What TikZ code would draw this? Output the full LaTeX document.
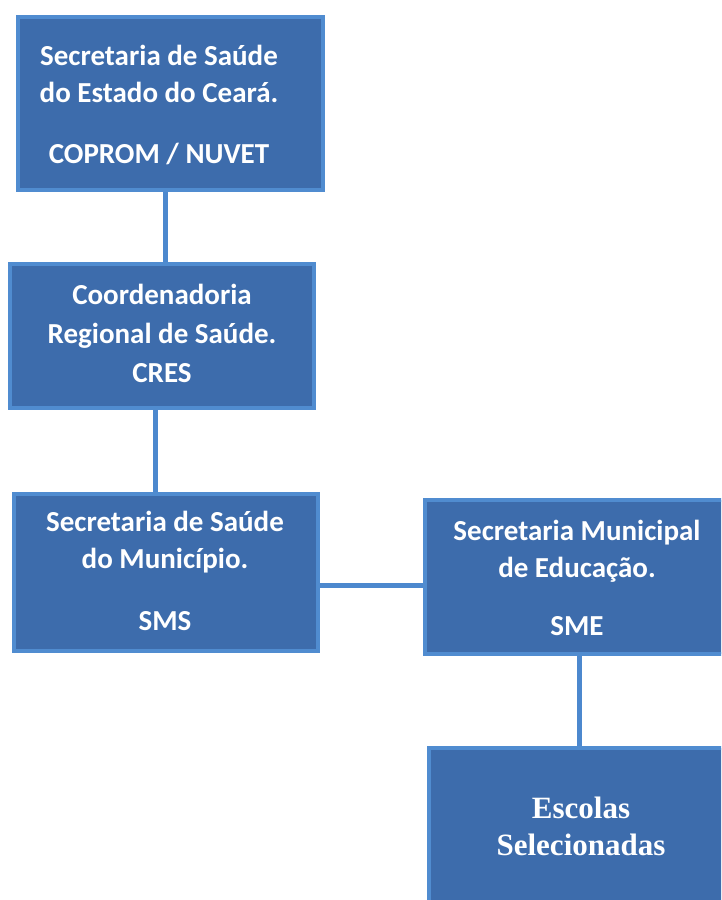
\documentclass[tikz,border=0pt]{standalone}
\usepackage{fontspec}
\setmainfont{Carlito}
\newfontfamily\timesfont{Liberation Serif}
\definecolor{boxfill}{RGB}{61,108,172}
\definecolor{boxedge}{RGB}{80,140,208}
\definecolor{linkcol}{RGB}{76,136,206}
\begin{document}
\begin{tikzpicture}[x=1pt,y=-1pt,
  orgbox/.style={rectangle, draw=boxedge, fill=boxfill, line width=4pt, inner sep=0pt},
  orgtext/.style={text=white, align=center, anchor=base, inner sep=0pt,
    font=\bfseries\fontsize{29}{37}\selectfont},
  schooltext/.style={text=white, align=center, anchor=base, inner sep=0pt,
    font=\timesfont\bfseries\fontsize{31}{37}\selectfont},
  link/.style={draw=linkcol, line width=5pt}]
\clip (0,0) rectangle (721,900);
\fill[white] (0,0) rectangle (721,900);
% boxes
\node[orgbox, minimum width=305pt, minimum height=173pt] (b1) at (170.5,103.5) {};
\node[orgbox, minimum width=304pt, minimum height=144pt] (b2) at (162,336) {};
\node[orgbox, minimum width=304pt, minimum height=157pt] (b3) at (166,572.5) {};
\node[orgbox, minimum width=308pt, minimum height=154pt] (b4) at (579,577) {};
\node[orgbox, minimum width=300pt, minimum height=172pt] (b5) at (579,834) {};
% texts (anchored at the baseline of the last line)
\node[orgtext] (t1) at (159,163) {Secretaria de Saúde\\do Estado do Ceará.\\[24pt]COPROM / NUVET};
\node[orgtext] (t2) at (162,382) {Coordenadoria\\[2pt]Regional de Saúde.\\[2pt]CRES};
\node[orgtext] (t3) at (165,630) {Secretaria de Saúde\\do Município.\\[25pt]SMS};
\node[orgtext] (t4) at (577,635) {Secretaria Municipal\\de Educação.\\[21pt]SME};
\node[schooltext] (t5) at (581,855) {Escolas\\Selecionadas};
% connectors
\draw[link] (165,0 |- b1.south) -- (165,0 |- b2.north);
\draw[link] (155,0 |- b2.south) -- (155,0 |- b3.north);
\draw[link] (b3.east |- 0,585) -- (b4.west |- 0,585);
\draw[link] (579,0 |- b4.south) -- (579,0 |- b5.north);
\end{tikzpicture}
\end{document}
